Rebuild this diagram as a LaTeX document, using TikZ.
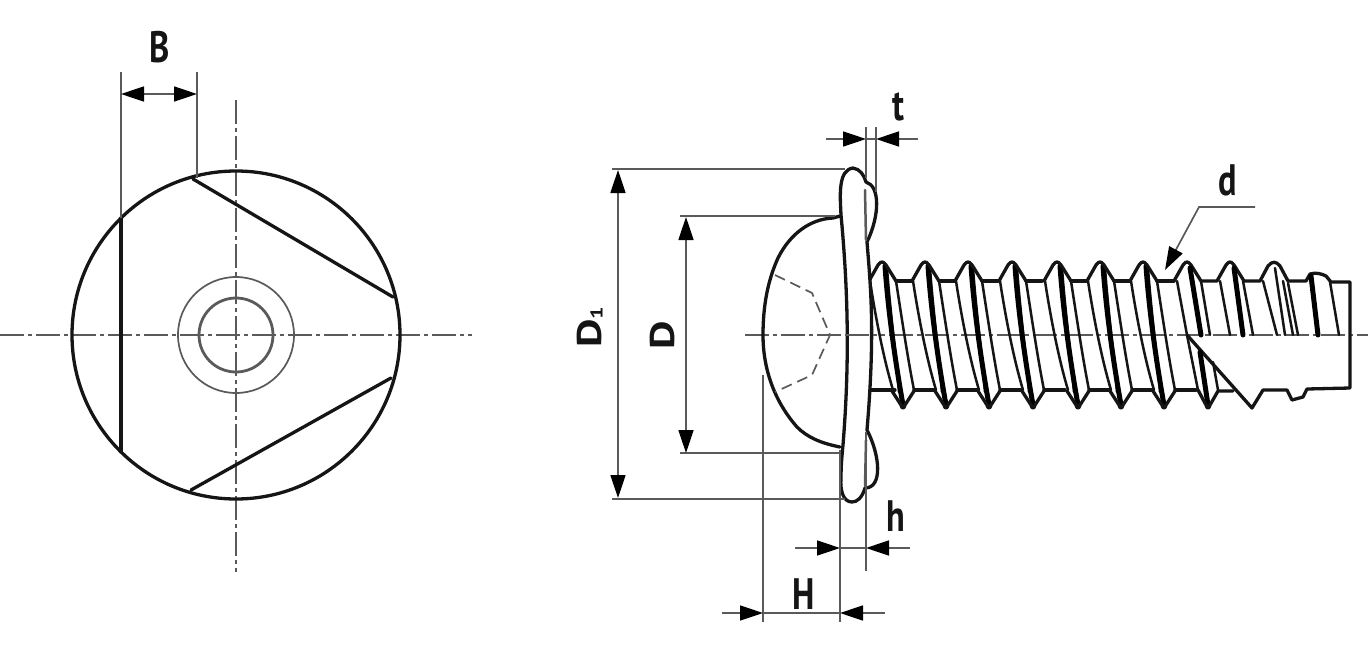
\documentclass[tikz,border=0pt]{standalone}
\usepackage{fontspec}
\setmainfont{PT Sans}
\usetikzlibrary{arrows.meta}
\definecolor{ink}{HTML}{151515}
\definecolor{thin}{HTML}{5A5A5A}
\tikzset{
  x=1pt,y=-1pt,
  outline/.style={draw=ink,line width=3.3pt,line cap=round,line join=round},
  flight/.style={draw=ink,line width=2.5pt,line cap=round},
  heavy/.style={draw=black,line width=5pt,line cap=round},
  dimline/.style={draw=thin,line width=1.7pt},
  centre/.style={draw=thin,line width=1.7pt,dash pattern=on 24pt off 4pt on 4pt off 4pt},
  recess/.style={draw=thin,line width=1.7pt,dash pattern=on 11pt off 6pt},
  tip/.style={-{Triangle[length=23pt,width=15pt,color=black]}},
  tips/.style={{Triangle[length=23pt,width=15pt,color=black]}-{Triangle[length=23pt,width=15pt,color=black]}},
  dimlabel/.style={font=\bfseries\fontsize{44}{44}\selectfont,text=ink,inner sep=0pt,xscale=.78,transform shape},
}
\begin{document}
\begin{tikzpicture}
\useasboundingbox (0,0) rectangle (1368,667);
\fill[white] (0,0) rectangle (1368,667);

% ---------- left view ----------
\coordinate (lc) at (236,335);
\draw[centre] (0,335) -- (472,335);
\draw[centre] (236,100) -- (236,572);
\draw[outline] (lc) circle[radius=164];
\draw[dimline] (lc) circle[radius=58];
\draw[draw=thin,line width=2.8pt] (lc) circle[radius=37];
\coordinate (va) at (121,218); \coordinate (vb) at (121,452);
\coordinate (ua) at (193,179); \coordinate (ub) at (393,297);
\coordinate (wa) at (191,490); \coordinate (wb) at (391,378);
\draw[outline] (va) -- (vb);
\draw[outline] (ua) -- (ub);
\draw[outline] (wa) -- (wb);

\coordinate (bl) at (121,94); \coordinate (br) at (197,94);
\draw[dimline] (121,72) -- (va);
\draw[dimline] (197,72) -- (197,178);
\draw[dimline,tips] (bl) -- (br);
\node[dimlabel] (labB) at (160,47) {B};

% ---------- centre line of the side view ----------
\draw[centre] (745,335) -- (1368,335);

% ---------- thread ----------
\foreach \x in {882,925,968,1012,1057,1100,1143}{
  \draw[flight] (\x-12,281) .. controls (\x-6,320) and (\x+2,360) .. (\x+11,390);
  \draw[flight] (\x+5,268) .. controls (\x+8,310) and (\x+14,355) .. (\x+17,392);
  \draw[heavy]  (\x+3,266) .. controls (\x+6,310) and (\x+13,360) .. (\x+21,405);
  \draw[flight] (\x+14,281) .. controls (\x+20,320) and (\x+26,360) .. (\x+32,390);
  \draw[outline] (\x-13,281) -- (\x-4,265) .. controls (\x-1,261) and (\x+1,261) .. (\x+4,265) -- (\x+14,281);
  \draw[outline] (\x+10,391) -- (\x+19,405) .. controls (\x+20,409) and (\x+22,409) .. (\x+23,405) -- (\x+32,391);
  \draw[outline] (\x+14,281) -- (\x+30,281);
  \draw[outline] (\x+32,390) -- (\x+53,390);
}
% cut part of the thread at the tip
\draw[outline] (1157,281) -- (1174,281);
\draw[outline] (1174,281) -- (1183,265) .. controls (1186,261) and (1188,261) .. (1191,265) -- (1201,281) -- (1217,281) -- (1226,265) .. controls (1229,261) and (1231,261) .. (1234,265) -- (1244,281) -- (1260,281) -- (1268,266) .. controls (1272,261) and (1276,261) .. (1280,266) -- (1288,281) -- (1306,281) -- (1310,274) .. controls (1316,272) and (1322,274) .. (1326,276) -- (1331,282) -- (1350,282) -- (1350,388) -- (1307,389) -- (1303,397) -- (1292,400) -- (1287,390) -- (1263,390) -- (1252,408) -- (1187,335);
\draw[flight] (1177,281) -- (1187,335);
\draw[heavy]  (1190,268) -- (1201,335);
\draw[flight] (1201,281) -- (1210,335);
\draw[flight] (1220,281) -- (1230,335);
\draw[heavy]  (1234,268) -- (1243,335);
\draw[flight] (1243,281) -- (1253,335);
\draw[flight] (1263,281) -- (1277,335);
\draw[flight] (1275,268) -- (1285,335);
\draw[flight] (1283,281) -- (1293,335);
\draw[flight] (1288,283) -- (1298,335);
\draw[heavy]  (1311,276) -- (1318,335);
\draw[flight] (1330,282) -- (1339,335);
\draw[flight] (1187,335) -- (1198,390);
\draw[heavy]  (1200,352) -- (1208,405);
\draw[outline] (1198,390) -- (1206,405) .. controls (1207,409) and (1209,409) .. (1210,405) -- (1218,391) -- (1233,391);
\draw[flight] (1213,362) -- (1218,390);

% ---------- washer and head ----------
\draw[outline] (868,390) -- (895,390);
\draw[outline] (840,216) -- (833,218) .. controls (810,219) and (790,234) .. (778,258) .. controls (768,280) and (763,305) .. (763,335) .. controls (763,370) and (775,402) .. (797,427) .. controls (807,437) and (820,443) .. (840,447);
\draw[recess] (775,275) -- (812,293) -- (830,335) -- (812,375) -- (775,392);
\draw[outline,fill=white] (841,215) .. controls (840,195) and (838,170) .. (853,168) .. controls (860,169) and (864,175) .. (866,182) .. controls (880,186) and (880,215) .. (867,242) .. controls (871,290) and (875,335) .. (867,430) .. controls (880,455) and (883,488) .. (865,488) .. controls (862,498) and (857,502) .. (852,502) .. controls (843,502) and (840,490) .. (841,478) .. controls (841,465) and (842,455) .. (843,445) .. controls (849,370) and (849,300) .. (841,215);
\draw[flight,draw=thin] (865,190) -- (866,240);
\draw[flight,draw=thin] (866,440) -- (865,486);
\draw[centre] (845,335) -- (880,335);

% ---------- dimensions of the side view ----------
\coordinate (d1t) at (618,170); \coordinate (d1b) at (618,498);
\draw[dimline] (612,169) -- (845,169);
\draw[dimline] (612,499) -- (845,499);
\draw[dimline,tips] (d1t) -- (d1b);
\node[dimlabel,rotate=90] (labD1) at (590,327) {D\raisebox{-1pt}{\fontsize{22}{22}\selectfont 1}};

\coordinate (dt) at (686,217); \coordinate (db) at (686,453);
\draw[dimline] (680,216) -- (835,216);
\draw[dimline] (680,453) -- (840,453);
\draw[dimline,tips] (dt) -- (db);
\node[dimlabel,rotate=90] (labD) at (662,335) {D};

\coordinate (hl) at (763,613); \coordinate (hr) at (840,613);
\coordinate (hlo) at (722,613); \coordinate (hro) at (885,613);
\draw[dimline] (763,375) -- (763,622);
\draw[dimline] (840,450) -- (840,622);
\draw[dimline] (hl) -- (hr);
\draw[dimline,tip] (hlo) -- (hl);
\draw[dimline,tip] (hro) -- (hr);
\node[dimlabel] (labH) at (804,594) {H};

\coordinate (sl) at (840,548); \coordinate (sr) at (866,548);
\coordinate (slo) at (795,548); \coordinate (sro) at (910,548);
\draw[dimline] (866,432) -- (866,571);
\draw[dimline] (sl) -- (sr);
\draw[dimline,tip] (slo) -- (sl);
\draw[dimline,tip] (sro) -- (sr);
\node[dimlabel] (labh) at (896,516) {h};

\coordinate (tl) at (866,139); \coordinate (tr) at (876,139);
\coordinate (tlo) at (826,139); \coordinate (tro) at (918,139);
\draw[dimline] (866,127) -- (866,178);
\draw[dimline] (876,127) -- (876,192);
\draw[dimline] (tl) -- (tr);
\draw[dimline,tip] (tlo) -- (tl);
\draw[dimline,tip] (tro) -- (tr);
\node[dimlabel] (labt) at (898,107) {t};

\coordinate (le) at (1255,207); \coordinate (lk) at (1199,207); \coordinate (lt) at (1165,270);
\draw[dimline,tip] (le) -- (lk) -- (lt);
\node[dimlabel] (labd) at (1228,180) {d};
\end{tikzpicture}
\end{document}
